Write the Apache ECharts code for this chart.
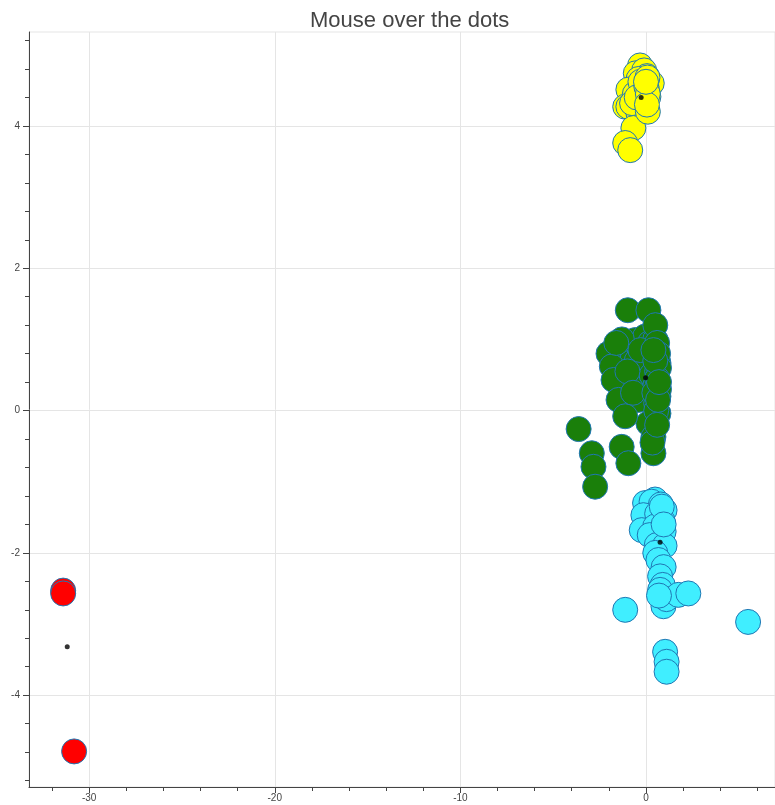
<!DOCTYPE html>
<html>
<head>
<meta charset="utf-8">
<title>Mouse over the dots</title>
<script src="https://cdn.jsdelivr.net/npm/echarts@6/dist/echarts.min.js"></script>
<style>
  html, body { margin: 0; padding: 0; background: #ffffff; }
  #chart { width: 775px; height: 805px; }
</style>
</head>
<body>
<div id="chart"></div>
<script>
// Cluster members (x, y)
const redX = [-31.40, -31.40, -30.81];
const redY = [-2.53, -2.57, -4.79];

const greenX = [-0.98, 0.13, -0.59, -0.05, 0.58, 0.67, -1.12, -1.66, -2.02, -1.84, -0.23, 0.13,
  -0.85, -1.75, -1.48, -0.41, 0.67, 0.67, 0.13, -1.12, 0.40, 0.40, -1.31, -0.95, -3.63, -2.92,
  -2.83, -2.74, -0.50, 0.30, 0.50, -1.00, -0.70, 0.20, 0.50, -1.30, 0.55, -0.30, 0.60, -1.60,
  0.35, 0.50, 0.60, 0.65, 0.70, 0.60, 0.70, 0.55, 0.60, 0.50, 0.45, 0.40, 0.65, 0.70];
const greenY = [1.41, 1.41, 0.99, 1.04, 0.85, 0.67, 0.83, 0.81, 0.80, 0.62, 0.53, 0.76,
  0.36, 0.43, 0.15, 0.15, 0.20, -0.04, -0.18, -0.08, -0.37, -0.60, -0.51, -0.74, -0.26, -0.60,
  -0.79, -1.07, 0.70, 0.50, 0.35, 0.55, 0.25, 0.95, 1.00, 1.00, 0.10, 0.85, 0.55, 0.95,
  -0.45, 1.20, 0.95, 0.80, 0.60, 0.45, 0.30, 0.00, -0.20, 0.70, 0.25, 0.85, 0.15, 0.40];

const cyanX = [0.49, -0.05, 0.30, 0.80, 1.00, -0.14, 0.60, 0.90, -0.23, 0.49, 0.95, 0.20, 0.58,
  1.00, 0.50, 0.67, 0.95, 0.76, 0.90, 0.76, 0.94, 1.10, 1.74, 2.28, -1.12, 5.50, 1.03, 1.11, 1.11,
  0.85, 0.95, 0.70];
const cyanY = [-1.25, -1.30, -1.28, -1.32, -1.40, -1.47, -1.45, -1.55, -1.68, -1.63, -1.70, -1.75, -1.89,
  -1.90, -2.00, -2.10, -2.20, -2.33, -2.45, -2.52, -2.75, -2.65, -2.59, -2.57, -2.80, -2.97, -3.39, -3.53, -3.67,
  -1.35, -1.60, -2.60];

const yellowX = [-0.32, -0.55, -0.10, 0.05, -0.40, 0.31, -0.95, -0.20, 0.13, -0.60, -1.12, -0.95, -0.02,
  -0.41, -0.75, 0.05, -0.68, -1.12, -0.85, -0.30, 0.10, -0.50, 0.08, 0.02, 0.10, 0.05, 0.00];
const yellowY = [4.85, 4.74, 4.78, 4.70, 4.66, 4.60, 4.51, 4.55, 4.41, 4.45, 4.27, 4.27, 4.35,
  4.18, 4.32, 4.50, 3.97, 3.76, 3.66, 4.62, 4.20, 4.40, 4.68, 4.55, 4.45, 4.30, 4.62];

// Cluster centres
const centerX = [-31.18, -0.02, 0.76, -0.26];
const centerY = [-3.32, 0.46, -1.85, 4.40];

// Tick values
const xMajorTicks = [-30, -20, -10, 0];
const xMinorTicks = [-32, -28, -26, -24, -22, -18, -16, -14, -12, -8, -6, -4, -2, 2, 4, 6];
const yMajorTicks = [-4, -2, 0, 2, 4];
const yMinorTicks = [-5.2, -4.8, -4.4, -3.6, -3.2, -2.8, -2.4, -1.6, -1.2, -0.8, -0.4,
  0.4, 0.8, 1.2, 1.6, 2.4, 2.8, 3.2, 3.6, 4.4, 4.8, 5.2];

const X_RANGE = [-33.24, 6.95];
const Y_RANGE = [-5.29, 5.32];

const zip = (xs, ys) => xs.map((x, i) => [x, ys[i]]);

const gridRect = { left: 29, top: 32, right: -2, bottom: 18 };
const axisColor = '#444444';
const labelFont = { fontFamily: 'Liberation Sans, Arial, sans-serif', fontSize: 10, color: '#444444' };

function cluster(name, xs, ys, fill) {
  return {
    name: name,
    type: 'scatter',
    xAxisIndex: 0,
    yAxisIndex: 0,
    symbol: 'circle',
    symbolSize: 25,
    data: zip(xs, ys),
    itemStyle: { color: fill, borderColor: '#1f77b4', borderWidth: 1, opacity: 1 },
    emphasis: { disabled: true }
  };
}

const chart = echarts.init(document.getElementById('chart'), null, { renderer: 'canvas' });
chart.setOption({
  animation: false,
  backgroundColor: '#ffffff',
  title: {
    text: 'Mouse over the dots',
    left: 305,
    top: 5,
    textStyle: { fontFamily: 'Liberation Sans, Arial, sans-serif', fontSize: 22, fontWeight: 'normal', color: '#444444' }
  },
  tooltip: { trigger: 'item' },
  grid: [
    Object.assign({ show: true, borderColor: '#e5e5e5', borderWidth: 1, backgroundColor: 'transparent' }, gridRect),
    Object.assign({ show: false }, gridRect)
  ],
  xAxis: [
    {
      type: 'value', gridIndex: 0, position: 'bottom', min: X_RANGE[0], max: X_RANGE[1],
      axisLine: { show: true, onZero: false, lineStyle: { color: axisColor, width: 1 } },
      axisTick: { show: true, length: 6, customValues: xMajorTicks, lineStyle: { color: axisColor } },
      axisLabel: Object.assign({ customValues: xMajorTicks, margin: 6 }, labelFont),
      splitLine: { show: true, lineStyle: { color: '#e5e5e5', width: 1 } }
    },
    {
      type: 'value', gridIndex: 1, position: 'bottom', min: X_RANGE[0], max: X_RANGE[1],
      axisLine: { show: false, onZero: false },
      axisTick: { show: true, length: 4, customValues: xMinorTicks, lineStyle: { color: axisColor } },
      axisLabel: { show: false },
      splitLine: { show: false }
    }
  ],
  yAxis: [
    {
      type: 'value', gridIndex: 0, position: 'left', min: Y_RANGE[0], max: Y_RANGE[1],
      axisLine: { show: true, onZero: false, lineStyle: { color: axisColor, width: 1 } },
      axisTick: { show: true, length: 6, customValues: yMajorTicks, lineStyle: { color: axisColor } },
      axisLabel: Object.assign({ customValues: yMajorTicks, margin: 9 }, labelFont),
      splitLine: { show: true, lineStyle: { color: '#e5e5e5', width: 1 } }
    },
    {
      type: 'value', gridIndex: 1, position: 'left', min: Y_RANGE[0], max: Y_RANGE[1],
      axisLine: { show: false, onZero: false },
      axisTick: { show: true, length: 4, customValues: yMinorTicks, lineStyle: { color: axisColor } },
      axisLabel: { show: false },
      splitLine: { show: false }
    }
  ],
  series: [
    cluster('red', redX, redY, '#ff0000'),
    cluster('green', greenX, greenY, '#1a7f0a'),
    cluster('cyan', cyanX, cyanY, '#40eeff'),
    cluster('yellow', yellowX, yellowY, '#ffff00'),
    {
      name: 'centres',
      type: 'scatter',
      xAxisIndex: 0,
      yAxisIndex: 0,
      symbol: 'circle',
      symbolSize: 5,
      z: 5,
      data: zip(centerX, centerY),
      itemStyle: { color: '#000000' }
    }
  ]
});
</script>
</body>
</html>
